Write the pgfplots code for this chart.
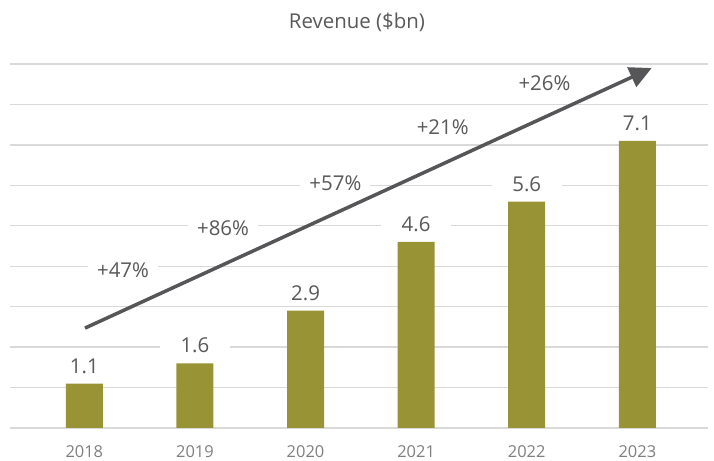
\documentclass[border=0pt]{standalone}
\usepackage{pgfplots}
\pgfplotsset{compat=1.18}
\usepackage{fontspec}
\setmainfont{Open Sans}
\usetikzlibrary{arrows.meta}

\definecolor{barolive}{HTML}{989436}
\definecolor{arrowgray}{HTML}{565659}
\definecolor{labelgray}{HTML}{595959}
\definecolor{tickgray}{HTML}{7F7F7F}
\definecolor{gridgray}{HTML}{D9D9D9}

\begin{document}
\begin{tikzpicture}[x=1bp,y=1bp]
\useasboundingbox (-10,-33) rectangle (704,428);
\begin{axis}[
  at={(0,0)}, anchor=south west,
  scale only axis, width=698bp, height=364bp,
  xmin=-0.672, xmax=5.639, ymin=0, ymax=9,
  axis line style={draw=none},
  major tick length=0,
  xtick={0,...,5},
  xticklabels={2018,2019,2020,2021,2022,2023},
  xticklabel style={font=\fontsize{16.5}{19}\selectfont, text=tickgray, yshift=-14bp},
  ytick={0,...,9}, yticklabels={},
  ymajorgrids, grid style={gridgray, line width=1.3bp},
  clip=false,
  point meta=explicit symbolic,
  every node near coord/.append style={font=\fontsize{20.5}{24}\selectfont, text=labelgray,
    fill=white, minimum width=70bp, inner ysep=3bp},
]
% revenue bars
\addplot[ybar, bar width=37bp, fill=barolive, draw=none, nodes near coords,
  every node near coord/.append style={anchor=south, yshift=7bp}]
  coordinates {(0,1.1)[1.1] (1,1.6)[1.6] (2,2.9)[2.9] (3,4.6)[4.6] (4,5.6)[5.6] (5,7.1)[7.1]};

% growth labels
\addplot[draw=none, mark=none, nodes near coords,
  every node near coord/.append style={anchor=center, inner ysep=2bp}]
  coordinates {(0.35,3.90)[+47\%] (1.254,4.95)[+86\%] (2.27,6.06)[+57\%] (3.24,7.44)[+21\%] (4.16,8.53)[+26\%]};

% trend arrow
\addplot[arrowgray, line width=3.5bp, -{Triangle[length=22bp,width=21bp]}]
  coordinates {(0.006,2.47) (5.13,8.90)};
\end{axis}
\node[font=\fontsize{20.5}{24}\selectfont, text=labelgray] at (347,406) {Revenue (\$bn)};
\end{tikzpicture}
\end{document}
